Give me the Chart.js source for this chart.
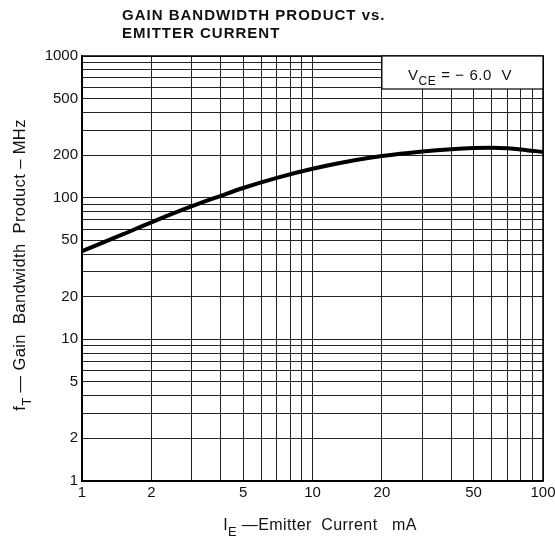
<!DOCTYPE html>
<html>
<head>
<meta charset="utf-8">
<script src="https://cdn.jsdelivr.net/npm/chart.js@4/dist/chart.umd.min.js"></script>
<style>
html,body{margin:0;padding:0;background:#fff;}
#wrap{width:555px;height:550px;}
</style>
</head>
<body>
<div id="wrap"><canvas id="c" width="555" height="550"></canvas></div>
<script>
// ---- data ----
const titleLines = ["GAIN BANDWIDTH PRODUCT vs.", "EMITTER CURRENT"];
const emitterCurrent = [1, 1.5, 2, 3, 4, 5, 7, 10, 15, 20, 30, 40, 50, 60, 70, 80, 100];
const gainBandwidth = [42, 55, 67, 87, 103, 117, 138, 160, 183, 197, 212, 220, 224, 225, 223, 219, 210];
const xTickLabels = [1, 2, 5, 10, 20, 50, 100];
const yTickLabels = [1, 2, 5, 10, 20, 50, 100, 200, 500, 1000];

function decadeTicks(min, max) {
  const t = [];
  for (let d = min; d < max; d *= 10) {
    for (let m = 1; m < 10; m++) t.push(d * m);
  }
  t.push(max);
  return t;
}

const FONT = '"Liberation Sans", Arial, sans-serif';

function drawSub(ctx, parts, x, y, size) {
  let cx = x;
  for (const [txt, sub] of parts) {
    ctx.font = (sub ? size * 0.8 : size) + 'px ' + FONT;
    ctx.fillText(txt, cx, sub ? y + size * 0.35 : y);
    cx += ctx.measureText(txt).width;
  }
  return cx - x;
}
function measureSub(ctx, parts, size) {
  let w = 0;
  for (const [txt, sub] of parts) {
    ctx.font = (sub ? size * 0.8 : size) + 'px ' + FONT;
    w += ctx.measureText(txt).width;
  }
  return w;
}

const decor = {
  id: 'decor',
  afterDraw(chart) {
    const ctx = chart.ctx;
    const a = chart.chartArea;
    const xs = chart.scales.x;
    ctx.save();
    // frame
    ctx.strokeStyle = '#000';
    ctx.lineWidth = 1.5;
    ctx.strokeRect(a.left, a.top, a.right - a.left, a.bottom - a.top);

    // condition box
    const bx = xs.getPixelForValue(20);
    const bh = 33;
    ctx.fillStyle = '#fff';
    ctx.fillRect(bx, a.top, a.right - bx, bh);
    ctx.lineWidth = 1.2;
    ctx.strokeRect(bx, a.top, a.right - bx, bh);
    ctx.fillStyle = '#111';
    ctx.textBaseline = 'alphabetic';
    ctx.textAlign = 'left';
    ctx.letterSpacing = '0.6px';
    const vParts = [["V", false], ["CE", true], [" = \u2212 6.0  V", false]];
    drawSub(ctx, vParts, bx + 26, a.top + 24, 15);
    ctx.letterSpacing = '0px';

    // title
    ctx.font = 'bold 15px ' + FONT;
    ctx.letterSpacing = '1px';
    ctx.fillStyle = '#111';
    ctx.fillText(titleLines[0], 122, 20);
    ctx.fillText(titleLines[1], 122, 38);
    ctx.letterSpacing = '0px';

    // x axis title
    ctx.letterSpacing = '0.4px';
    const xParts = [["I", false], ["E", true], [" \u2014Emitter  Current   mA", false]];
    const xw = measureSub(ctx, xParts, 16);
    drawSub(ctx, xParts, 320 - xw / 2, 530, 16);

    // y axis title
    ctx.translate(25, 265);
    ctx.rotate(-Math.PI / 2);
    const yParts = [["f", false], ["T", true], [" \u2014 Gain  Bandwidth  Product \u2013 MHz", false]];
    const yw = measureSub(ctx, yParts, 16.5);
    drawSub(ctx, yParts, -yw / 2, 0, 16.5);
    ctx.restore();
  }
};

new Chart(document.getElementById('c'), {
  type: 'line',
  data: {
    datasets: [{
      data: emitterCurrent.map((x, i) => ({ x: x, y: gainBandwidth[i] })),
      borderColor: '#000',
      borderWidth: 4,
      pointRadius: 0,
      cubicInterpolationMode: 'monotone',
      fill: false
    }]
  },
  options: {
    responsive: false,
    animation: false,
    layout: { padding: { top: 56, right: 12, left: 0, bottom: 0 } },
    plugins: { legend: { display: false }, tooltip: { enabled: false } },
    scales: {
      x: {
        type: 'logarithmic',
        min: 1, max: 100,
        afterBuildTicks(s) { s.ticks = decadeTicks(1, 100).map(v => ({ value: v })); },
        afterFit(s) { s.height = 69; s.paddingRight = 0; s.paddingLeft = 0; },
        grid: { color: '#222', lineWidth: 1, drawTicks: false },
        border: { color: '#000', width: 1.5 },
        ticks: {
          autoSkip: false, maxRotation: 0, padding: 3,
          color: '#111', font: { family: FONT, size: 15 },
          callback: (v) => xTickLabels.includes(v) ? String(v) : ''
        }
      },
      y: {
        type: 'logarithmic',
        min: 1, max: 1000,
        afterBuildTicks(s) { s.ticks = decadeTicks(1, 1000).map(v => ({ value: v })); },
        afterFit(s) { s.width = 82; s.paddingTop = 0; s.paddingBottom = 0; },
        grid: { color: '#222', lineWidth: 1, drawTicks: false },
        border: { color: '#000', width: 1.5 },
        ticks: {
          autoSkip: false, padding: 4,
          color: '#111', font: { family: FONT, size: 15 },
          callback: (v) => yTickLabels.includes(v) ? String(v) : ''
        }
      }
    }
  },
  plugins: [decor]
});
</script>
</body>
</html>
